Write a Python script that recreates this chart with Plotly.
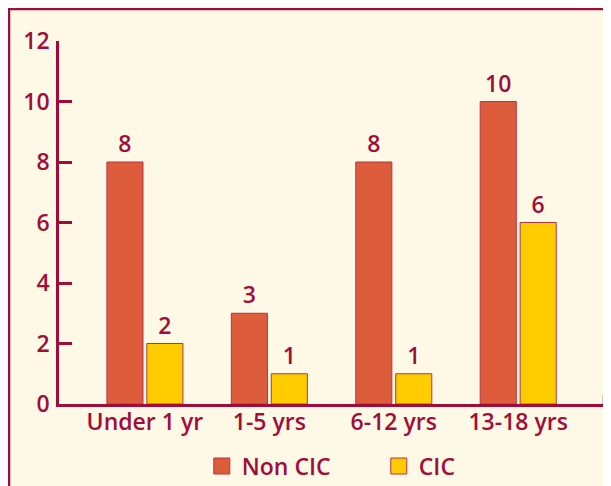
import plotly.graph_objects as go

# age groups and counts
age_groups = ['Under 1 yr', '1-5 yrs', '6-12 yrs', '13-18 yrs']
non_cic = [8, 3, 8, 10]
cic = [2, 1, 1, 6]

dark_red = '#A10D38'
cream = '#FEF8E6'
font_fam = 'Open Sans'
fsize = 23

fig = go.Figure()

fig.add_trace(go.Bar(x=age_groups, y=non_cic, name='Non CIC',
                     width=0.29, offset=-0.305,
                     marker=dict(color='#DD5C3B', line=dict(color='#B5344A', width=1)),
                     text=non_cic, textposition='outside',
                     textfont=dict(size=fsize, color=dark_red, family=font_fam, weight=600),
                     cliponaxis=False, showlegend=False))
fig.add_trace(go.Bar(x=age_groups, y=cic, name='CIC',
                     width=0.29, offset=0.016,
                     marker=dict(color='#FFCC00', line=dict(color='#B5344A', width=1)),
                     text=cic, textposition='outside',
                     textfont=dict(size=fsize, color=dark_red, family=font_fam, weight=600),
                     cliponaxis=False, showlegend=False))

# legend entries with bigger squares
for nm, col in [('Non CIC', '#DD5C3B'), ('CIC', '#FFCC00')]:
    fig.add_trace(go.Scatter(x=[None], y=[None], mode='markers', name=nm,
                             marker=dict(symbol='square', size=18, color=col,
                                         line=dict(color='#B5344A', width=1))))

# frame (figure sits 8px in from the page corner, so only left/top edges show)
fig.add_shape(type='rect', xref='paper', yref='paper',
              x0=-50/545, x1=1.1, y0=-0.3, y1=1 + 32/363,
              line=dict(color=dark_red, width=2.5), layer='below')
# small tick at the end of the x axis
fig.add_shape(type='line', xref='x domain', yref='y', x0=1, x1=1, y0=0, y1=0.3,
              line=dict(color=dark_red, width=2.5))

fig.update_layout(
    width=611, height=486,
    margin=dict(l=51, r=15, t=33, b=90, autoexpand=False),
    paper_bgcolor=cream, plot_bgcolor='rgba(0,0,0,0)',
    font=dict(family=font_fam, size=fsize, color=dark_red, weight=600),
    showlegend=True,
    legend=dict(orientation='h', x=0.262, xanchor='left', y=-0.171, yanchor='middle',
                entrywidth=132, bgcolor='rgba(0,0,0,0)', font=dict(size=fsize),
                itemsizing='trace'),
    xaxis=dict(range=[-0.69, 3.69], showline=True, linecolor=dark_red, linewidth=2.5,
               ticks='', showgrid=False, zeroline=False, ticklabelstandoff=-4,
               automargin=False),
    yaxis=dict(range=[0, 12], tickvals=[0, 2, 4, 6, 8, 10, 12], showline=True,
               linecolor=dark_red, linewidth=2.5, ticks='inside', ticklen=13,
               tickwidth=2.5, tickcolor=dark_red, showgrid=False, zeroline=False,
               ticklabelstandoff=2, automargin=False),
)

fig.write_html('out.html')
